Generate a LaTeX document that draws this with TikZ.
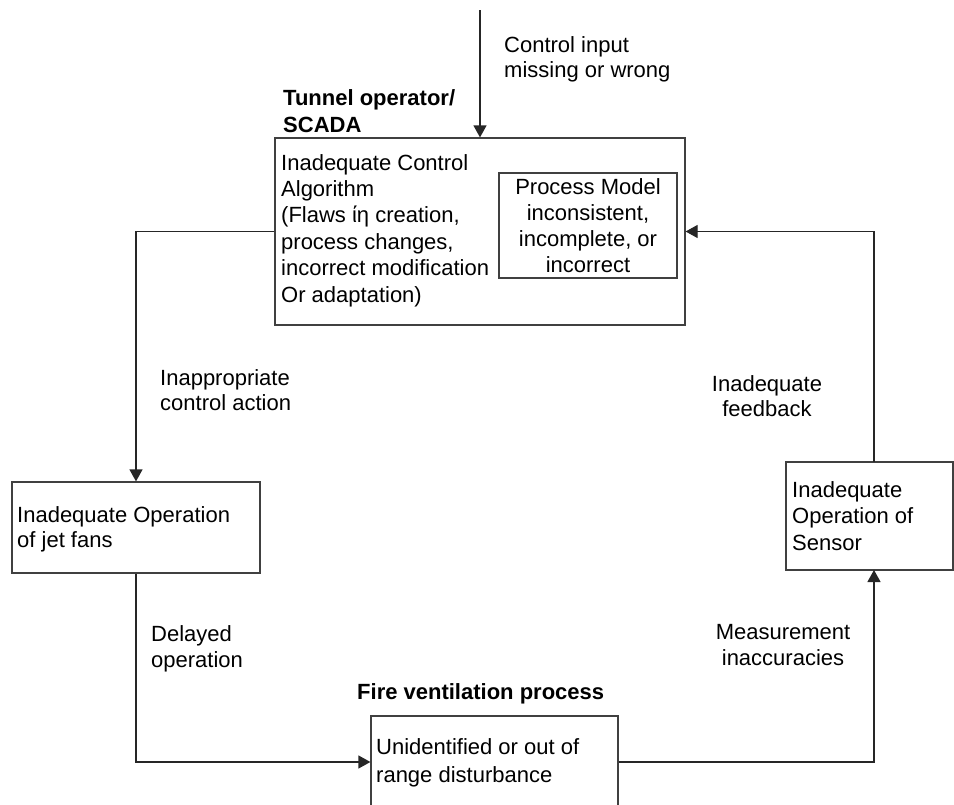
\documentclass[tikz,border=0pt]{standalone}
\usepackage{fontspec}
\setmainfont{Liberation Sans}
\usetikzlibrary{arrows.meta,positioning,calc}
\definecolor{boxline}{HTML}{404040}
\tikzset{
  box/.style={draw=boxline,line width=1.2pt,inner sep=0pt,rectangle},
  lbl/.style={inner sep=0pt,font=\fontsize{22}{25.5}\selectfont,align=left,anchor=north west},
  clbl/.style={inner sep=0pt,font=\fontsize{22}{25.5}\selectfont,align=center,anchor=north},
  blbl/.style={inner sep=0pt,font=\fontsize{22}{27}\selectfont\bfseries,align=left,anchor=north west},
  arr/.style={draw=black!85,line width=1.2pt,-{Triangle[length=12pt,width=13pt]}}
}
\begin{document}
\begin{tikzpicture}[x=1pt,y=-1pt]
\useasboundingbox (0,0) rectangle (954,804);
\clip (0,0) rectangle (954,804);
% boxes
\node[box,minimum width=410pt,minimum height=187pt] (ctrl) at (480,231.5) {};
\node[box,minimum width=178pt,minimum height=105pt] (model) at (588,225.5) {};
\node[box,minimum width=248pt,minimum height=91pt] (fans) at (136,527.5) {};
\node[box,minimum width=167pt,minimum height=108pt] (sensor) at (869.5,516) {};
\node[box,minimum width=247pt,minimum height=92pt] (proc) at (494.5,762) {};
\coordinate (intop) at (480,10);
\coordinate (sensS) at (874,570);
\coordinate (sensN) at (874,462);
% texts
\node[lbl] (tin) at (504,36) {Control input\\missing or wrong};
\node[blbl] (top) at (283,89) {Tunnel operator/\\SCADA};
\node[lbl,font=\fontsize{22}{26.4}\selectfont] (tctrl) at (281,154) {Inadequate Control\\Algorithm\\(Flaws ίη creation,\\process changes,\\incorrect modification\\Or adaptation)};
\node[clbl,font=\fontsize{22}{26}\selectfont] (tmodel) at (588,178) {Process Model\\inconsistent,\\incomplete, or\\incorrect};
\node[lbl] (tica) at (160,369) {Inappropriate\\control action};
\node[lbl] (tfans) at (17,506) {Inadequate Operation\\of jet fans};
\node[lbl,font=\fontsize{22}{26}\selectfont] (tdel) at (151,625) {Delayed\\operation};
\node[clbl] (tfb) at (767,375) {Inadequate\\feedback};
\node[lbl,font=\fontsize{22}{26.5}\selectfont] (tsens) at (792,481) {Inadequate\\Operation of\\Sensor};
\node[clbl,font=\fontsize{22}{26}\selectfont] (tmeas) at (783,624) {Measurement\\inaccuracies};
\node[blbl] (tfire) at (357,683) {Fire ventilation process};
\node[lbl,font=\fontsize{22}{28}\selectfont] (tproc) at (376,738) {Unidentified or out of\\range disturbance};
% connectors
\draw[arr] (intop) -- (ctrl.north);
\draw[arr] (ctrl.west) -| (fans.north);
\draw[arr] (fans.south) |- (proc.west);
\draw[arr] (proc.east) -| (sensS);
\draw[arr] (sensN) |- (ctrl.east);
\end{tikzpicture}
\end{document}
